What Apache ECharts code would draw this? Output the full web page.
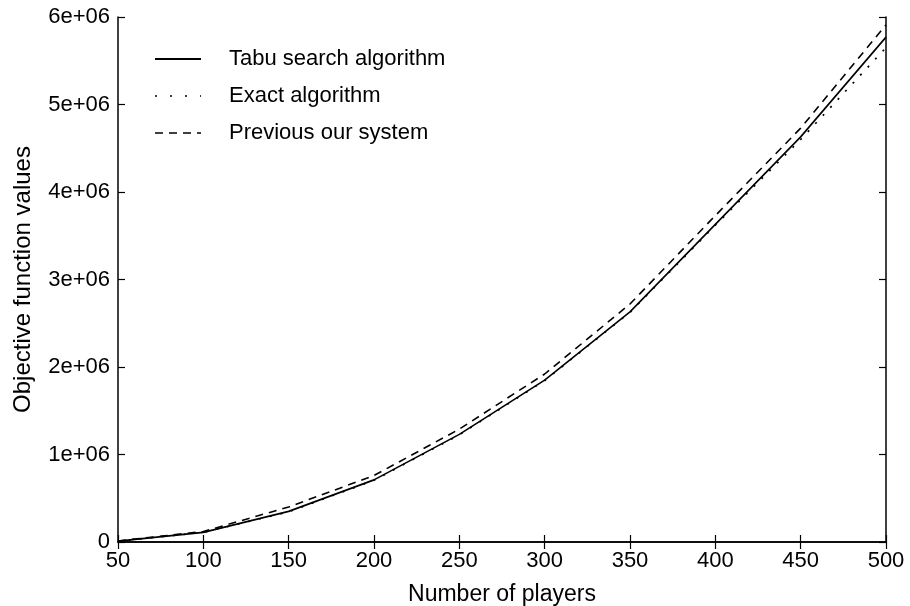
<!DOCTYPE html>
<html>
<head>
<meta charset="utf-8">
<script src="https://cdn.jsdelivr.net/npm/echarts@6/dist/echarts.min.js"></script>
<style>html,body{margin:0;padding:0;background:#fff;}#c{width:910px;height:606px;}</style>
</head>
<body>
<div id="c"></div>
<script>
var players = [50, 100, 150, 200, 250, 300, 350, 400, 450, 500];
var tabu = [10000, 110000, 350000, 710000, 1230000, 1850000, 2630000, 3630000, 4630000, 5770000];
var exact = [10000, 110000, 345000, 705000, 1225000, 1845000, 2625000, 3620000, 4600000, 5650000];
var previous = [12000, 120000, 400000, 760000, 1290000, 1920000, 2720000, 3730000, 4730000, 5910000];
var seriesNames = ['Tabu search algorithm', 'Exact algorithm', 'Previous our system'];

function pairs(ys) { return players.map(function (x, i) { return [x, ys[i]]; }); }
var font = 'Liberation Sans, Arial, sans-serif';
var tickStyle = { show: true, inside: true, length: 7, lineStyle: { color: '#000', width: 1.2 } };
var lineStyle = { show: true, lineStyle: { color: '#000', width: 1.5 } };

var chart = echarts.init(document.getElementById('c'));
chart.setOption({
  animation: false,
  backgroundColor: '#fff',
  grid: { left: 118, right: 24, top: 17, bottom: 64, containLabel: false, outerBoundsMode: 'none' },
  legend: {
    orient: 'vertical', left: 149, top: 43, itemWidth: 46, itemHeight: 14, itemGap: 15,
    itemStyle: { opacity: 0 },
    textStyle: { fontFamily: font, fontSize: 22, color: '#000', padding: [0, 0, 0, 23] },
    data: [
      { name: seriesNames[0] },
      { name: seriesNames[1], lineStyle: { type: [2, 13], width: 1.7 } },
      { name: seriesNames[2], lineStyle: { type: [8, 6], width: 1.6 } }
    ]
  },
  xAxis: [
    { type: 'value', min: 50, max: 500, interval: 50, position: 'bottom',
      name: 'Number of players', nameLocation: 'middle', nameGap: 41,
      nameTextStyle: { fontFamily: font, fontSize: 23, color: '#000' },
      axisLine: lineStyle, axisTick: tickStyle, splitLine: { show: false },
      axisLabel: { fontFamily: font, fontSize: 22, color: '#000', margin: 8 } },
    { type: 'value', min: 50, max: 500, interval: 50, position: 'top',
      axisLine: lineStyle, axisTick: tickStyle, splitLine: { show: false },
      axisLabel: { show: false } }
  ],
  yAxis: [
    { type: 'value', min: 0, max: 6000000, interval: 1000000, position: 'left',
      name: 'Objective function values', nameLocation: 'middle', nameGap: 83,
      nameTextStyle: { fontFamily: font, fontSize: 24, color: '#000' },
      axisLine: lineStyle, axisTick: tickStyle, splitLine: { show: false },
      axisLabel: { fontFamily: font, fontSize: 22, color: '#000', margin: 8,
        formatter: function (v) { return v === 0 ? '0' : (v / 1000000) + 'e+06'; } } },
    { type: 'value', min: 0, max: 6000000, interval: 1000000, position: 'right',
      axisLine: lineStyle, axisTick: tickStyle, splitLine: { show: false },
      axisLabel: { show: false } }
  ],
  series: [
    { name: seriesNames[0], type: 'line', data: pairs(tabu), showSymbol: false, symbol: 'none',
      lineStyle: { color: '#000', width: 1.6, type: 'solid' }, itemStyle: { color: '#000' } },
    { name: seriesNames[1], type: 'line', data: pairs(exact), showSymbol: false, symbol: 'none',
      lineStyle: { color: '#000', width: 1.7, type: [2, 9] }, itemStyle: { color: '#000' } },
    { name: seriesNames[2], type: 'line', data: pairs(previous), showSymbol: false, symbol: 'none',
      lineStyle: { color: '#000', width: 1.6, type: [8, 6] }, itemStyle: { color: '#000' } }
  ]
});
</script>
</body>
</html>
